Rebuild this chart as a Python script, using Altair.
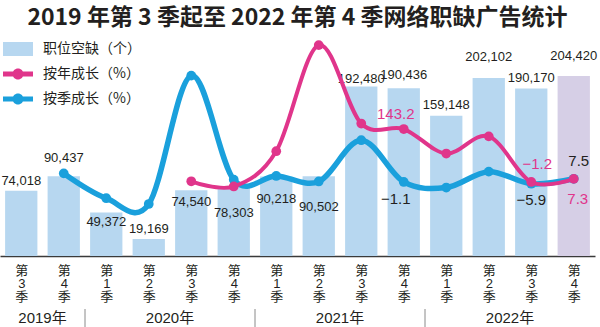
import json
import altair as alt
import pandas as pd

# ---------------- data ----------------
quarters = ["3", "4", "1", "2", "3", "4", "1", "2", "3", "4", "1", "2", "3", "4"]
years = ["2019", "2019", "2020", "2020", "2020", "2020", "2021", "2021",
         "2021", "2021", "2022", "2022", "2022", "2022"]
vacancies = [74018, 90437, 49372, 19169, 74540, 78303, 90218, 90502,
             192480, 190436, 159148, 202102, 190170, 204420]
yoy = [None, None, None, None, 0.7, -13.4, 82.7, 372.1, 158.2, 143.2,
       76.4, 123.3, -1.2, 7.3]
qoq = [None, 22.2, -45.4, -61.2, 288.9, 5.0, 15.2, 0.3, 112.7, -1.1,
       -16.4, 27.0, -5.9, 7.5]
series_names = ["职位空缺（个）", "按年成长（%）", "按季成长（%）"]
yoy_labelled = [9, 12, 13]
qoq_labelled = [9, 12, 13]

# ---------------- layout (label nudges, px) ----------------
bar_label_dy = [-10, -18, 9, -10, 12, 26, 22, 31, -8, -13, -11, -21, -11, -20]
yoy_label_off = {9: (-8, -15), 12: (6, -18), 13: (4, 20)}
qoq_label_off = {9: (-8, 17), 12: (0, 16), 13: (5, -18)}

BAR = "#b7d7f0"
LAST = "#d6cfe6"
PINK = "#e0358b"
BLUE = "#1aa0dc"
TXT = "#231f20"
NUMFONT = "Liberation Sans, Arial, Noto Sans CJK SC"
CJK = "Noto Sans CJK SC"

W, H = 595, 216
YB_MAX = 245300
YL_MIN, YL_MAX = -203, 386
N = len(vacancies)
STEP = W / N

idx = list(range(N))
bar_df = pd.DataFrame({
    "idx": idx, "year": years, "q": quarters, "vac": vacancies,
    "series": series_names[0],
    "lab": [f"{v:,}" for v in vacancies],
    "ldy": bar_label_dy,
})


def line_df(vals):
    return pd.DataFrame([{"idx": i, "v": v} for i, v in zip(idx, vals) if v is not None])


def lab_df(vals, which, offs):
    rows = []
    for i in which:
        rows.append({"idx": i, "v": vals[i], "t": f"{vals[i]}".replace("-", "\u2212"),
                     "dx": offs[i][0], "dy": offs[i][1]})
    return pd.DataFrame(rows)


yoy_df = line_df(yoy)
qoq_df = line_df(qoq)
yoy_lab = lab_df(yoy, yoy_labelled, yoy_label_off)
qoq_lab = lab_df(qoq, qoq_labelled, qoq_label_off)

year_df = bar_df.groupby("year", as_index=False).agg(c=("idx", "mean"), first=("idx", "min"))
year_df["lab"] = year_df["year"] + "年"
sep_df = year_df.iloc[1:].assign(b=lambda d: d["first"] - 0.5)

# ---------------- scales / axis ----------------
xs = alt.Scale(domain=[-0.5, N - 0.5], nice=False, zero=False)
yb = alt.Scale(domain=[0, YB_MAX], nice=False)
yl = alt.Scale(domain=[YL_MIN, YL_MAX], nice=False, zero=False)

x_axis = alt.Axis(
    values=idx, title=None, ticks=False, grid=False,
    labelExpr="['第', " + json.dumps(quarters) + "[datum.value], '季']",
    labelFontSize=13, labelLineHeight=13, labelPadding=8, labelColor=TXT,
    labelFont=NUMFONT, labelFlush=False, labelOverlap=False,
    domainColor="#3a3a3a", domainWidth=1.5,
)

rect_path = "M-1.5,-0.7H1.5V0.7H-1.5Z"
line_path = ("M-1.5,-0.24H1.5V0.24H-1.5Z "
             "M0.55,0A0.55,0.55 0 1 1 -0.55,0A0.55,0.55 0 1 1 0.55,0Z")

legend = alt.Legend(
    title=None, orient="none", legendX=8, legendY=-1, padding=0,
    symbolSize=400,
    symbolType={"expr": f"datum.value == '{series_names[0]}' ? '{rect_path}' : '{line_path}'"},
    symbolStrokeWidth=0, symbolOpacity=1,
    labelFont=CJK, labelFontSize=14, labelColor=TXT, labelOffset=15,
    rowPadding=8,
)

X = lambda f: alt.X(f, scale=xs, axis=x_axis)

bars = alt.Chart(bar_df).transform_calculate(
    x0="datum.idx - 0.38", x1="datum.idx + 0.38", zero="0"
).mark_rect().encode(
    x=X("x0:Q"), x2="x1:Q",
    y=alt.Y("vac:Q", scale=yb, axis=None), y2="zero:Q",
    color=alt.condition(
        alt.datum.idx == N - 1, alt.value(LAST),
        alt.Color("series:N", scale=alt.Scale(domain=series_names, range=[BAR, PINK, BLUE]),
                  legend=legend)),
)

# label nudges converted from pixels to data units through the scale extents
bar_labels = alt.Chart(bar_df).transform_calculate(
    ly=f"datum.vac - datum.ldy * {YB_MAX} / {H}"
).mark_text(
    font=NUMFONT, fontSize=13, color=TXT, baseline="middle"
).encode(
    x=X("idx:Q"),
    y=alt.Y("ly:Q", scale=yb, axis=None),
    text="lab:N",
)


def line_layers(df, color, sw):
    base = alt.Chart(df).encode(x=X("idx:Q"), y=alt.Y("v:Q", scale=yl, axis=None))
    return [base.mark_line(color=color, strokeWidth=sw, interpolate="cardinal"),
            base.mark_circle(color=color, size=95, opacity=1)]


def label_layer(df, color):
    return alt.Chart(df).transform_calculate(
        lx=f"datum.idx + datum.dx / {STEP}",
        ly=f"datum.v - datum.dy * {YL_MAX - YL_MIN} / {H}",
    ).mark_text(font=NUMFONT, fontSize=15, color=color, baseline="middle").encode(
        x=X("lx:Q"), y=alt.Y("ly:Q", scale=yl, axis=None), text="t:N",
    )


year_text = alt.Chart(year_df).mark_text(font=NUMFONT, fontSize=15, color=TXT, baseline="middle").encode(
    x=X("c:Q"), y=alt.value(H + 62), text="lab:N"
)
seps = alt.Chart(sep_df).mark_rule(color="#8a8a8a", strokeWidth=1).encode(
    x=X("b:Q"), y=alt.value(H + 53), y2=alt.value(H + 72)
)

layers = [bars, bar_labels] + line_layers(qoq_df, BLUE, 5.5) + line_layers(yoy_df, PINK, 4) + [
    label_layer(qoq_lab, TXT), label_layer(yoy_lab, PINK), year_text, seps]

chart = alt.layer(*layers).resolve_scale(y="independent").properties(
    width=W, height=H,
    padding={"left": 0, "top": 40, "right": 5, "bottom": 71},
    autosize=alt.AutoSizeParams(type="none"),
    title=alt.Title("2019 年第 3 季起至 2022 年第 4 季网络职缺广告统计", font=CJK,
                    fontSize=23, fontWeight="bold", color=TXT, anchor="middle", offset=7),
    background="white",
).configure_view(stroke=None)

chart.save("out.html", embed_options={"renderer": "svg", "actions": False})
